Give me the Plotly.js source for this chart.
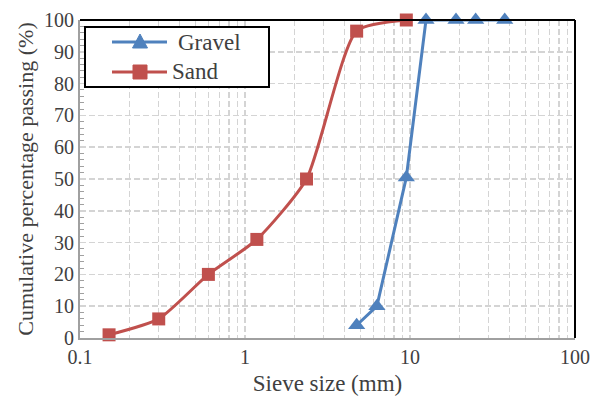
<!DOCTYPE html>
<html>
<head>
<meta charset="utf-8">
<script src="https://cdn.plot.ly/plotly-3.0.1.min.js"></script>
<style>html,body{margin:0;padding:0;background:#fff;}#chart{width:591px;height:403px;}</style>
</head>
<body>
<div id="chart"></div>
<script>
const gravelSize = [4.75, 6.3, 9.5, 12.5, 19, 25, 37.5];
const gravelPassing = [4, 10, 50.5, 100, 100, 100, 100];
const sandSize = [0.15, 0.3, 0.6, 1.18, 2.36, 4.75, 9.5];
const sandPassing = [1, 6, 20, 31, 50, 96.5, 100];
const seriesNames = ['Gravel', 'Sand'];
const xTickVals = [0.1, 1, 10, 100];
const xTickText = ['0.1', '1', '10', '100'];

const font = 'Liberation Serif';
const txt = '#404040';
const blue = '#4F81BD', red = '#C0504D';
const traces = [
  {x: gravelSize, y: gravelPassing, name: seriesNames[0], type: 'scatter', mode: 'lines+markers',
   line: {color: blue, width: 3}, marker: {symbol: 'triangle-up', size: 15, color: blue}, cliponaxis: false},
  {x: sandSize, y: sandPassing, name: seriesNames[1], type: 'scatter', mode: 'lines+markers',
   line: {color: red, width: 3, shape: 'spline', smoothing: 0.6}, marker: {symbol: 'square', size: 13, color: red}, cliponaxis: false}
];

// manual legend (paper coordinates); plot area is 495 x 318 px
const W = 495, H = 318;
const px = v => v / W, py = v => v / H;
const lx0 = px(112 - 80), lx1 = px(167 - 80), mx = px(140 - 80);
const r1 = (338 - 42) / H, r2 = (338 - 72) / H;
const legendShapes = [
  {type: 'rect', xref: 'paper', yref: 'paper', x0: px(85 - 80), x1: px(269 - 80), y0: (338 - 87) / H, y1: (338 - 27) / H,
   line: {color: '#000', width: 2}, fillcolor: '#fff', layer: 'above'},
  {type: 'line', xref: 'paper', yref: 'paper', x0: lx0, x1: lx1, y0: r1, y1: r1, line: {color: blue, width: 3}, layer: 'above'},
  {type: 'path', xref: 'paper', yref: 'paper', fillcolor: blue, line: {color: blue, width: 1}, layer: 'above',
   path: `M ${mx - px(7.5)} ${r1 - py(6)} L ${mx + px(7.5)} ${r1 - py(6)} L ${mx} ${r1 + py(8)} Z`},
  {type: 'line', xref: 'paper', yref: 'paper', x0: lx0, x1: lx1, y0: r2, y1: r2, line: {color: red, width: 3}, layer: 'above'},
  {type: 'rect', xref: 'paper', yref: 'paper', x0: mx - px(7), x1: mx + px(7), y0: r2 - py(7), y1: r2 + py(7),
   fillcolor: red, line: {color: red, width: 1}, layer: 'above'}
];
const legendAnnots = [
  {xref: 'paper', yref: 'paper', x: px(176 - 80), y: r1, xanchor: 'left', yanchor: 'middle', showarrow: false,
   text: seriesNames[0], font: {family: font, size: 23, color: txt}},
  {xref: 'paper', yref: 'paper', x: px(170 - 80), y: r2, xanchor: 'left', yanchor: 'middle', showarrow: false,
   text: seriesNames[1], font: {family: font, size: 23, color: txt}}
];

const layout = {
  width: 591, height: 403,
  margin: {l: 80, r: 16, t: 20, b: 65},
  paper_bgcolor: '#fff', plot_bgcolor: '#fff',
  font: {family: font, size: 20, color: txt},
  showlegend: false,
  xaxis: {type: 'log', range: [-1, 2], tickvals: xTickVals, ticktext: xTickText,
          showline: true, linecolor: '#a0a0a0', linewidth: 2, ticks: '', zeroline: false,
          showgrid: true, gridcolor: '#d4d4d4', griddash: '6px,3px', gridwidth: 1.5,
          minor: {showgrid: true, gridcolor: '#d4d4d4', griddash: '6px,3px', gridwidth: 1.5,
                  tickvals: [0.2,0.3,0.4,0.5,0.6,0.7,0.8,0.9,2,3,4,5,6,7,8,9,20,30,40,50,60,70,80,90]},
          title: {text: 'Sieve size (mm)', font: {family: font, size: 23, color: txt}, standoff: 8},
          tickfont: {family: font, size: 20, color: txt}},
  yaxis: {range: [0, 100], dtick: 10, showline: true, linecolor: '#a0a0a0', linewidth: 2, zeroline: false,
          ticks: '', showgrid: true, gridcolor: '#d4d4d4', griddash: '6px,3px', gridwidth: 1.5,
          minor: {dtick: 2, ticks: 'inside', ticklen: 4, tickcolor: '#a0a0a0', showgrid: false},
          title: {text: 'Cumulative percentage passing (%)', font: {family: font, size: 22, color: txt}, standoff: 4},
          tickfont: {family: font, size: 20, color: txt}},
  shapes: [
    {type: 'line', xref: 'paper', yref: 'paper', x0: 0, x1: 1, y0: 1, y1: 1, line: {color: '#000', width: 2}},
    {type: 'line', xref: 'paper', yref: 'paper', x0: 1, x1: 1, y0: 0, y1: 1, line: {color: '#000', width: 2}}
  ].concat(legendShapes),
  annotations: legendAnnots
};
Plotly.newPlot('chart', traces, layout, {displayModeBar: false, staticPlot: true});
</script>
</body>
</html>
